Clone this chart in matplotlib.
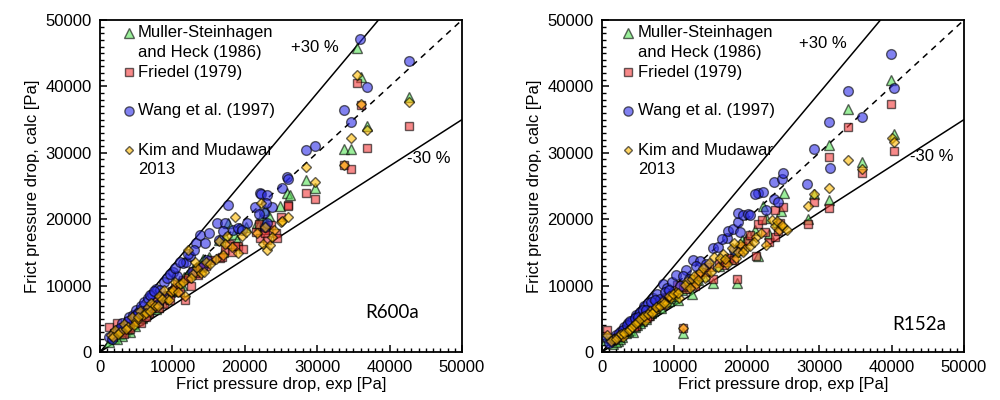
import matplotlib
matplotlib.use("Agg")
import matplotlib.pyplot as plt
from matplotlib.ticker import MultipleLocator

plt.rcParams['font.family'] = ['Liberation Sans', 'DejaVu Sans']

# ---------------- R600a ----------------
r600a_msh_exp = [1300, 2000, 2600, 3000, 3400, 4100, 4600, 5200, 5800, 6300, 6900, 7400, 8000, 8600,
                 9100, 9600, 10200, 10900, 11600, 12300, 12900, 13500, 14200, 15000, 16400, 17200,
                 17700, 18500, 19300, 20100, 21700, 22300, 22800, 23300, 24900, 25800, 26200, 28450,
                 29700, 33700, 34700, 35450, 36000, 36830, 42720,
                 2300, 3700, 4900, 5500, 6600, 7700, 8300, 9900, 10500, 11300, 12000, 13200, 13800,
                 14600, 17000, 18900, 21900, 22600, 23000]
r600a_msh_calc = [1500, 2100, 2700, 2400, 3100, 3000, 4200, 4800, 5100, 5700, 6500, 6900, 6800, 7600,
                  8400, 9000, 9800, 10500, 11300, 12100, 12500, 12900, 14000, 14300, 16900, 17300,
                  19400, 17800, 18600, 18900, 19500, 20200, 21400, 20500, 22000, 23900, 23700, 25900,
                  24650, 30570, 30570, 45830, 41460, 34090, 38450,
                  2000, 3500, 3900, 5300, 6100, 6500, 8200, 9300, 9200, 10100, 11600, 12200, 13200,
                  13500, 15100, 16900, 19100, 19700, 19300]

r600a_fri_exp = [1300, 1800, 2400, 2900, 3300, 3900, 4500, 5200, 5600, 6100, 6700, 7200, 7900, 8400,
                 8900, 9300, 10000, 10700, 11400, 11700, 12200, 12800, 13500, 14100, 14700, 15300,
                 16600, 17300, 18200, 19100, 19800, 21500, 22100, 22600, 23100, 23300, 24300, 24400,
                 25000, 25900, 26000, 28450, 29700, 33700, 34670, 35450, 36000, 36830, 42720,
                 2000, 3600, 4200, 4800, 6400, 7500, 8100, 9600, 10300, 11000, 12500, 13100, 13800,
                 16900, 17800, 18700, 21900, 22800, 23600]
r600a_fri_calc = [3700, 2300, 4300, 3300, 2700, 4700, 4500, 5400, 4300, 6300, 5900, 6600, 7700, 8200,
                  7300, 8600, 9200, 10300, 10800, 7900, 11100, 12200, 11600, 12700, 13000, 13900,
                  14100, 15300, 15000, 15900, 15500, 18000, 17200, 18400, 16900, 18400, 17900, 17100,
                  20380, 22100, 22040, 23900, 23040, 28160, 27560, 40460, 37200, 30670, 34040,
                  2900, 3600, 3400, 4900, 5300, 7100, 6600, 7900, 9700, 9000, 9900, 11900, 12800,
                  14300, 16200, 15900, 19300, 17900, 19200]

r600a_wang_exp = [1200, 1900, 2500, 3000, 3500, 4000, 4500, 5000, 5600, 6100, 6500, 6600, 7200, 7700,
                  8300, 8800, 9000, 9300, 10100, 10600, 11500, 11900, 12400, 12700, 13300, 13800,
                  14200, 14500, 15100, 16100, 17300, 17700, 18400, 19100, 19600, 21400, 22100, 22300,
                  22600, 22800, 23000, 23100, 23700, 25100, 25800, 26000, 28450, 29700, 33700, 34670,
                  35900, 36830, 42720,
                  1600, 2800, 3800, 4800, 5300, 6900, 7400, 8000, 9600, 10300, 11000, 12100, 13000,
                  14800, 16500, 17000, 20300, 21900, 22900]
r600a_wang_calc = [2200, 2900, 3300, 4400, 3900, 5200, 5600, 6300, 7000, 7500, 6400, 8200, 8800, 9500,
                   9300, 10600, 8300, 11200, 12100, 11400, 13400, 13600, 14400, 12000, 16400, 17600,
                   12900, 16400, 17900, 19500, 19500, 22100, 18400, 18600, 18400, 21900, 23900, 23800,
                   20900, 18900, 19400, 23650, 21900, 24650, 26400, 26000, 30420, 31070, 36450, 34690,
                   47090, 39960, 43870,
                   1900, 3600, 4700, 5400, 5800, 8600, 9200, 7300, 11800, 12600, 13500, 14800, 15300,
                   13800, 16900, 18200, 19400, 20800, 22500]

r600a_kim_exp = [1500, 2100, 2800, 3300, 3900, 4400, 5000, 5500, 6000, 6600, 7100, 7600, 8200, 8800,
                 9200, 9800, 10400, 11100, 11700, 12200, 12800, 13400, 13900, 14600, 15200, 16400,
                 17000, 17600, 18300, 18600, 19000, 19600, 21700, 22200, 22500, 23000, 23500, 24100,
                 25000, 25200, 26010, 28450, 29700, 33700, 34670, 35450, 36000, 36830, 42720,
                 1800, 2500, 3600, 4700, 5300, 6300, 6900, 8000, 8500, 9500, 10100, 10800, 11400,
                 12500, 13100, 14300, 16000, 17300, 20100, 22800, 23800]
r600a_kim_calc = [2600, 3300, 3000, 4200, 3700, 5300, 4700, 6100, 5500, 6800, 7400, 6900, 8500, 9400,
                  8000, 9000, 10600, 10200, 8400, 15350, 11800, 12600, 11900, 13600, 13300, 16700,
                  14600, 17400, 15800, 20300, 14900, 17400, 17900, 22500, 16260, 15430, 16060, 18300,
                  19630, 19750, 20380, 27910, 25650, 28160, 32180, 41700, 37350, 33430, 37700,
                  2200, 2700, 3400, 4100, 5200, 5800, 6200, 7000, 8000, 7900, 9300, 9000, 10600,
                  11200, 13500, 12100, 14000, 16200, 18000, 18800, 17300]

# ---------------- R152a ----------------
r152a_msh_exp = [600, 1500, 2200, 2800, 3300, 3800, 4300, 4900, 5500, 6100, 6800, 7400, 8100, 8800,
                 9500, 10100, 10500, 11230, 11800, 12400, 13200, 13900, 15380, 16200, 17300, 18200,
                 18690, 19400, 20300, 21200, 21600, 22190, 23100, 24200, 25140, 28410, 29280, 31350,
                 31350, 34020, 35870, 39920, 40330,
                 1900, 2500, 3600, 4600, 5200, 5800, 6500, 7100, 7800, 9200, 9800, 11000, 12000,
                 12700, 14500, 16700, 17800, 19900, 22600, 24700]
r152a_msh_calc = [1800, 1200, 1700, 2300, 2900, 3300, 3000, 4100, 4700, 5000, 5900, 6700, 6600, 7600,
                  8100, 8700, 7800, 2810, 9700, 8800, 10800, 11500, 10340, 13000, 14200, 15100,
                  10340, 16800, 17600, 18300, 14460, 22040, 17800, 19600, 24000, 20030, 23740, 31170,
                  22890, 36600, 28660, 40960, 32780,
                  1500, 2000, 3100, 3700, 4300, 5400, 5600, 6100, 7300, 7700, 8400, 9300, 10300,
                  10600, 12400, 13700, 14000, 17000, 20200, 21300]

r152a_fri_exp = [645, 1400, 2100, 2700, 3200, 3700, 4100, 4700, 5300, 5900, 6500, 7100, 7700, 8300,
                 9000, 9700, 10400, 11230, 11600, 12300, 12900, 13600, 14400, 15380, 16100, 16800,
                 17600, 18200, 18690, 19400, 20100, 21300, 21590, 22050, 23100, 23900, 23900, 24300,
                 25050, 28410, 29280, 31350, 31350, 34020, 35870, 39920, 40330,
                 1800, 2400, 3500, 4400, 5000, 6200, 6800, 7400, 8600, 9300, 10000, 11200, 12600,
                 13300, 14800, 17000, 19000, 20500, 22500, 24600]
r152a_fri_calc = [3310, 1700, 2300, 2600, 3200, 3600, 4500, 3900, 5000, 5600, 5400, 6500, 7200, 7100,
                  8300, 8800, 10100, 3560, 9500, 10500, 9900, 11700, 12000, 10940, 13400, 13100,
                  14200, 13800, 10940, 15900, 16700, 14460, 19280, 19880, 16500, 21390, 17370, 18200,
                  21890, 19280, 22640, 29320, 21740, 33940, 26910, 37300, 30270,
                  1900, 2200, 3100, 3800, 4700, 5100, 6000, 6600, 7900, 8500, 8900, 9800, 11000,
                  11500, 12800, 13600, 15200, 17600, 18000, 19500]

r152a_wang_exp = [645, 1300, 2000, 2600, 3100, 3600, 4200, 4700, 5300, 5800, 6400, 7000, 7600, 8000,
                  8470, 9000, 9600, 10170, 10800, 11600, 12610, 13540, 14300, 15380, 15980, 17220,
                  17450, 18140, 18300, 18830, 18830, 19520, 20210, 21590, 22190, 22600, 23760, 23760,
                  24260, 24810, 25050, 28270, 29280, 31350, 31490, 34020, 35870, 39920, 40330,
                  1000, 1700, 2300, 2900, 3400, 3900, 4500, 5000, 5600, 6100, 6700, 7300, 8700,
                  9300, 11200, 12000, 13000, 16600, 19000, 20500, 21200]
r152a_wang_calc = [2060, 1600, 2500, 3200, 3700, 4300, 4700, 5500, 6000, 6900, 7400, 8100, 8800, 8000,
                   10190, 9600, 10500, 11600, 10000, 12400, 13860, 13700, 13200, 15610, 15860, 17120,
                   18270, 18470, 15300, 19630, 20880, 20630, 20730, 23900, 24050, 21400, 23040, 25650,
                   22640, 26050, 26910, 25250, 30520, 34690, 27760, 39310, 35440, 44830, 39710,
                   1400, 2000, 2900, 3300, 4000, 4600, 5100, 5300, 6400, 6300, 7600, 7800, 9000,
                   9400, 11500, 11000, 12900, 17000, 18000, 20600, 23800]

r152a_kim_exp = [700, 1600, 2300, 2900, 3400, 3900, 4400, 5000, 5500, 6000, 6600, 7200, 7700, 8300,
                 8900, 9500, 10200, 10700, 11230, 11800, 12400, 13000, 13600, 14200, 14800, 15500,
                 16000, 16700, 17300, 17900, 18500, 19100, 19800, 20500, 21300, 22650, 23430, 23900,
                 24500, 25000, 25510, 28410, 29280, 31350, 34020, 35870, 40010, 40330,
                 1200, 2000, 2600, 3100, 3700, 4200, 4700, 5200, 5800, 6300, 6900, 7400, 8000,
                 8600, 9200, 9800, 10500, 11500, 12100, 12700, 13300, 14000, 15000, 16300, 17000,
                 18200, 18800, 19500, 21000, 21900, 24200, 24800]
r152a_kim_calc = [2500, 1900, 2500, 2200, 3100, 3500, 4000, 4500, 5200, 4600, 6200, 6000, 6900, 7600,
                  7300, 8100, 9000, 8100, 3560, 10700, 11000, 10200, 12100, 11200, 13400, 14300,
                  12800, 14800, 13200, 15700, 14200, 16300, 15500, 15900, 17300, 16110, 19880, 19000,
                  18400, 18900, 18300, 22040, 23740, 24750, 28920, 27510, 32280, 31680,
                  1700, 1900, 2700, 2900, 3300, 3700, 4300, 4900, 5400, 5700, 5800, 6800, 7000,
                  7400, 8500, 8800, 8900, 10100, 9700, 11400, 10800, 12600, 12000, 14200, 14000,
                  16400, 15000, 15000, 16600, 17900, 19700, 19100]

legend_labels = ["Muller-Steinhagen\nand Heck (1986)", "Friedel (1979)",
                 "Wang et al. (1997)", "Kim and Mudawar\n2013"]
axis_limit = 50000
band = 0.30

# translucent markers: overlapping points build up darker tones
marker_alpha = 0.6
styles = [
    dict(marker='^', ms=7.0, mfc='#58E358'),
    dict(marker='s', ms=6.2, mfc='#F33A3A'),
    dict(marker='o', ms=7.0, mfc='#2E2EE6'),
    dict(marker='D', ms=4.8, mfc='#FFBC00'),
]

panels = [
    dict(name='R600a', rect=[0.100, 0.12, 0.362, 0.83],
         series=[(r600a_msh_exp, r600a_msh_calc), (r600a_fri_exp, r600a_fri_calc),
                 (r600a_wang_exp, r600a_wang_calc), (r600a_kim_exp, r600a_kim_calc)],
         plus_pos=(29700, 45800), minus_pos=(45400, 29100), name_pos=(40300, 5900),
         leg_mx=0.080, leg_tx=0.105),
    dict(name='R152a', rect=[0.602, 0.12, 0.362, 0.83],
         series=[(r152a_msh_exp, r152a_msh_calc), (r152a_fri_exp, r152a_fri_calc),
                 (r152a_wang_exp, r152a_wang_calc), (r152a_kim_exp, r152a_kim_calc)],
         plus_pos=(30500, 46500), minus_pos=(45600, 29500), name_pos=(43800, 4100),
         leg_mx=0.073, leg_tx=0.099),
]

fig = plt.figure(figsize=(10, 4), dpi=100)

for p in panels:
    ax = fig.add_axes(p['rect'])
    ax.set_xlim(0, axis_limit)
    ax.set_ylim(0, axis_limit)

    # reference lines: perfect agreement and +/-30 % band
    ax.plot([0, axis_limit], [0, axis_limit], ls=(0, (4, 3.5)), color='black', lw=1.1, zorder=1)
    ax.plot([0, axis_limit / (1 + band)], [0, axis_limit], color='black', lw=1.1, zorder=1)
    ax.plot([0, axis_limit], [0, axis_limit * (1 - band)], color='black', lw=1.1, zorder=1)

    for (xs, ys), st in zip(p['series'], styles):
        ax.plot(xs, ys, ls='none', marker=st['marker'], ms=st['ms'], mfc=st['mfc'],
                mec='black', mew=1.0, alpha=marker_alpha, zorder=3)

    ax.text(*p['plus_pos'], '+30 %', fontsize=12, ha='center', va='center')
    ax.text(*p['minus_pos'], '-30 %', fontsize=12, ha='center', va='center')
    ax.text(*p['name_pos'], p['name'], fontsize=13.5, ha='center', va='center',
            family=['Lato', 'DejaVu Sans'])

    # legend drawn as marker + text rows
    row_y = [0.961, 0.843, 0.726, 0.608]
    line_dy = 0.058
    for lab, st, ry in zip(legend_labels, styles, row_y):
        ax.plot([p['leg_mx']], [ry], transform=ax.transAxes, ls='none', marker=st['marker'],
                ms=st['ms'] * 0.95, mfc=st['mfc'], mec='black', mew=1.0, alpha=marker_alpha,
                clip_on=False, zorder=4)
        for i, line in enumerate(lab.split('\n')):
            ax.text(p['leg_tx'], ry - i * line_dy, line, transform=ax.transAxes,
                    fontsize=12, ha='left', va='center')

    ax.xaxis.set_major_locator(MultipleLocator(10000))
    ax.yaxis.set_major_locator(MultipleLocator(10000))
    ax.xaxis.set_minor_locator(MultipleLocator(1000))
    ax.yaxis.set_minor_locator(MultipleLocator(1000))
    ax.tick_params(which='major', direction='in', length=5, width=1.1, labelsize=12, pad=6)
    ax.tick_params(which='minor', direction='in', length=3, width=1.0)
    ax.tick_params(top=False, right=False, which='both')
    for s in ax.spines.values():
        s.set_linewidth(1.3)

    ax.set_xlabel('Frict pressure drop, exp [Pa]', fontsize=12, labelpad=1)
    ax.set_ylabel('Frict pressure drop, calc [Pa]', fontsize=12, labelpad=4)

fig.savefig('out.png', dpi=100)
